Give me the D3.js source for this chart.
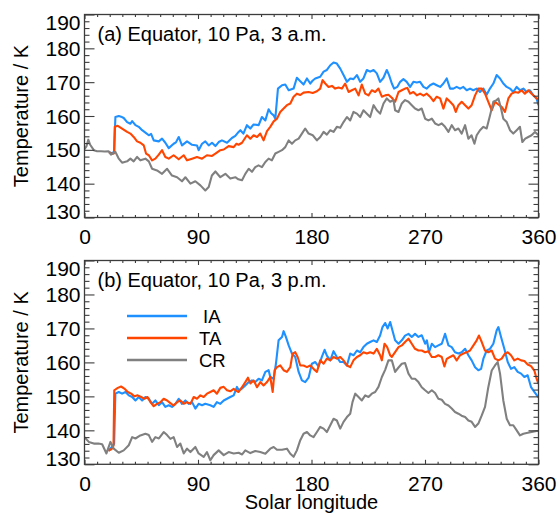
<!DOCTYPE html>
<html>
<head>
<meta charset="utf-8">
<script src="https://cdn.jsdelivr.net/npm/d3@7"></script>
<style>
  body { margin: 0; background: #fff; }
  svg { display: block; font-family: "Liberation Sans", Arial, Helvetica, sans-serif; }
</style>
</head>
<body>
<svg id="chart" width="558" height="514"></svg>
<script>
// ---------------- DATA (Solar longitude [deg], Temperature [K]) ----------------
const xTicks = [0, 90, 180, 270, 360];
const yTicks = [130, 140, 150, 160, 170, 180, 190];
const seriesNames = ["IA", "TA", "CR"];
const panelTitles = ["(a) Equator, 10 Pa, 3 a.m.", "(b) Equator, 10 Pa, 3 p.m."];

// Panel (a), 3 a.m.
const amIA = [[19.5,149.3],[22,149],[23.5,149.5],[24.5,159.7],[27.2,160],[29,159.8],[31.1,159.4],[33.8,158.2],[36.4,157.7],[37.8,158.5],[40.4,157.3],[43,156.8],[45.7,155.8],[48.3,155.1],[51,154.3],[52.8,154.7],[54.9,152.8],[58.9,152.5],[61.5,153.3],[64.1,152.1],[66.8,150.5],[70.7,151.8],[72.5,152.2],[74.7,153.8],[77.3,151.3],[81.3,152.5],[85.3,151.5],[89.2,151.3],[90.5,149.9],[93.2,151.8],[95.8,152.5],[98.5,151.3],[101.1,152.1],[103.8,151.1],[106.4,152.3],[109,152.8],[113,152.1],[116.9,153.5],[119.6,154.1],[122.2,155.3],[123.6,155.8],[126,154.8],[128.8,157.3],[131.5,156.3],[134.1,157.5],[138.1,157.3],[140.7,159.7],[143.4,158.7],[146,162],[148,160.8],[150,160.2],[151.3,159.2],[153.4,168.1],[156.6,169.1],[159.2,169.3],[161.9,167.6],[165.8,168.1],[168.4,171.3],[171.1,170.3],[173.7,169.3],[176.4,171.1],[179,169.6],[181,170.5],[183,171.1],[186.9,171.6],[189.6,173.1],[192.2,173.6],[194.9,175],[197.5,175.8],[200.1,175.5],[202.8,174],[205.4,172.1],[208.1,170.1],[210.7,171.1],[213.3,170.9],[216,172.1],[218.6,170.1],[221.2,171.1],[223.9,173.6],[226.5,173.1],[229.2,173.6],[231.8,172.6],[234.4,170.1],[237.1,171.3],[239.7,173.6],[241.5,172.1],[243.7,169.6],[245.5,168.1],[248,168.6],[250.3,170.1],[252.9,170.9],[255.5,170.1],[258.2,168.6],[260.8,170.1],[263.5,169.9],[266.1,170.1],[268.8,168.6],[271.4,168.1],[274,169.1],[276.7,169.6],[279.3,169.1],[282,168.6],[284.6,169.6],[287.2,171.1],[289.9,168.1],[292.5,168.1],[295.1,168.6],[297.8,168.1],[300.4,168.6],[303.1,167.6],[305.7,168.1],[308.3,167.6],[311,168.1],[313.6,167.1],[316.3,168.1],[318.9,166.3],[321.5,168.1],[324.2,169.6],[326.8,172.1],[329.5,171.1],[332.1,169.6],[334.8,168.6],[337.4,168.1],[340,167.1],[342.7,168.6],[345.3,167.6],[348,168.1],[350.6,167.1],[353.2,167.6],[355.9,166.1],[358.5,165.1],[360,163.2]];
const amTA = [[19.5,149.3],[22,148.8],[23.5,149],[24,156.8],[26.4,157.1],[29.8,156.3],[33.8,155.3],[36.4,154.8],[39,153.8],[41.7,152.5],[44.3,152.1],[47,151.3],[48.8,148.9],[51,148.4],[53.6,146.9],[56.2,147.4],[58.9,148.6],[61.5,149.9],[64.1,147.9],[66.8,147.4],[70.7,148.4],[74.7,147.2],[78.7,148.4],[81.3,146.9],[85.3,147.4],[89.2,147.9],[93.2,147.4],[97.1,148.4],[101.1,148.2],[103.8,148.9],[107.7,149.9],[110.4,150.1],[114.3,151.1],[118.3,150.8],[120.5,151.8],[122.2,151.5],[124.9,152.1],[128.8,154.3],[131.5,153.3],[134.1,154.3],[136.8,153.8],[139.4,154.8],[142,152.8],[144.7,155.5],[147.3,156.8],[150,158.4],[152.6,159.2],[155.2,161.2],[157.9,162.2],[160.5,163.2],[163.2,163.7],[165.8,165.7],[168.4,166.6],[171.1,166.2],[173.7,166.9],[177.7,167.1],[181,166.8],[184.3,167.3],[186.9,168.1],[188.8,170.6],[190.9,169.6],[193.5,168.6],[196.2,168.9],[198.8,168.1],[201.4,168.4],[204.1,168.1],[206.7,169.6],[209.4,167.1],[212,167.6],[214.7,168.1],[217.3,166.1],[219.9,169.3],[222.6,166.6],[225.2,166.1],[227.8,167.6],[230.5,167.1],[233.1,168.1],[235.8,165.7],[238.4,166.1],[241,166.3],[243.7,165.4],[246.3,164.2],[249,167.1],[251.6,167.6],[254.2,168.1],[256,168.3],[258.2,166.6],[260.8,167.1],[263.5,166.1],[266.1,166.6],[268.8,166],[271.4,166.6],[274,165.7],[276.7,164.4],[279.3,165.7],[282,165.2],[284.6,162.2],[287.2,165.2],[289.9,164.2],[292.5,163.2],[294.4,161.2],[296.5,163.2],[299.1,164.2],[301.8,163.2],[304.4,162.2],[307,163.2],[309.7,166.1],[312.3,168.1],[315,168.1],[317.6,166.6],[320.2,164.2],[322.9,161.7],[325.5,164.2],[328.2,163.4],[330.8,162.7],[333.4,161.2],[336.1,165.2],[338.7,166.6],[341.4,167.1],[344,166.9],[346.6,167.6],[349.2,166.6],[351.9,167.6],[354.5,166.6],[357.2,165.7],[360,164.7]];
const amCR = [[0,150.2],[1.5,151],[3,153],[4.5,151.5],[7.4,149.9],[10,149.6],[13,149.6],[16,149.5],[19,149.6],[21,148.6],[24.5,149.4],[27,147.5],[29.8,146.2],[33.8,146.6],[36.4,147.4],[39,146.6],[41.7,147.9],[44.3,146.9],[48.3,147.4],[51,146.6],[53.6,144.4],[57.5,143.9],[61.5,142.9],[65.5,144.4],[69.4,142.4],[73.4,141.9],[77.3,140.7],[80,141.9],[84,140],[87.9,140.7],[91.9,139.5],[95.8,138],[98.5,139],[101,142.4],[103.8,143.6],[107.7,141.9],[111.7,142.9],[115.6,141.5],[119.6,141.9],[122,141.3],[124.9,141],[127.5,142.9],[130.2,144.4],[132.8,143.5],[135.4,144.9],[138,145.4],[140.7,144.9],[143.4,146.4],[146,147.4],[148.6,146.9],[151.3,148.9],[153.9,149.4],[156.6,149.9],[159.2,150.8],[161.9,152.8],[164.5,151.8],[167.1,152.8],[169.8,153.3],[172.4,154.8],[175,156.3],[177.7,154.8],[181,154.3],[184.3,152.8],[187,153.8],[189.6,155.3],[192.2,154.5],[194.9,155.8],[197.5,155.3],[200.1,156.8],[202.8,156.5],[205.4,158.2],[208.1,159.7],[210.7,158.7],[213.3,161.2],[216,160.7],[218.6,159.7],[221.2,161.7],[223.9,160.7],[226.5,159.7],[229.2,163.2],[231.8,161.7],[234.4,160.7],[237.1,163.7],[239.7,165.2],[242.4,164.2],[245,164.7],[246.3,161.7],[249,161.2],[251.6,163.7],[254.2,164.7],[256.9,164.2],[259.5,163.2],[262.1,162.2],[264.8,161.7],[267.4,162.2],[270.1,159.2],[272.7,158.7],[275.4,159.2],[278,157.8],[280.7,157.3],[283.3,157.8],[285.9,156.8],[288.6,155.3],[291.2,157.3],[293.8,155.8],[296.5,156.3],[299.1,154.8],[301.8,157.3],[304.4,153.3],[306.9,154.3],[309.2,151.8],[311,154.3],[313.6,155.8],[316.3,156.8],[318.9,156.3],[321.6,160.2],[324.2,164.2],[326.8,164.7],[328.2,165.2],[330.3,162.2],[332.1,159.2],[334.8,158.2],[337.4,155.8],[340,154.8],[342.7,155.8],[345.3,156.8],[347.2,152.3],[349.5,153.3],[351.9,153.8],[354.5,154.3],[357.2,155.3],[360,154.3]];

// Panel (b), 3 p.m.
const pmIA = [[19,134],[21.5,135],[23.5,136],[24.5,150.8],[27.2,151.3],[29.8,150.8],[32.5,151.3],[35.1,150.3],[37.8,149.8],[40.4,148.8],[43,149.8],[45.7,148.8],[48.3,149.8],[51,149.3],[53.6,147.8],[56.2,148.8],[58.9,147.4],[61.5,148.3],[64.1,146.9],[66.8,147.4],[69.4,146.9],[72.1,147.8],[74.7,149.3],[77.3,147.8],[80,148.8],[82.6,147.8],[85.3,148.3],[87.9,146.4],[90.5,147.8],[93.2,147.4],[95.8,147.8],[99.8,147.4],[102.4,146.9],[105,148.3],[107.7,147.8],[110.4,148.8],[113,149.3],[115.6,149.8],[118.3,150.3],[120.9,152.8],[122.2,151.8],[124.9,152.3],[127.5,153.2],[130.2,154.2],[132.8,154.7],[135.4,154.2],[138.1,155.2],[140.7,154.7],[143.4,157.2],[146,157.7],[147.3,155.7],[150,155.2],[151.8,159.6],[153.9,166.5],[156.6,167.5],[157.9,169.2],[159.7,167.5],[161.9,165],[164.5,162.6],[167.1,161.6],[169.8,157.2],[172.4,154.7],[175,154.2],[177.7,155.5],[180.3,159.6],[183,160.1],[185.6,158.8],[188.2,161.6],[190.4,163.7],[192.2,162],[194.9,160.6],[197.5,163.3],[200.1,161.6],[202.8,160.1],[205.4,160.1],[208.1,159.1],[210.7,162.6],[213.3,162.1],[216,163.5],[218.6,163],[221.2,164.5],[223.9,165.5],[226.5,166],[229.2,166.5],[231.8,166],[234.4,167.9],[236.3,170.4],[238.4,171.6],[240.4,170],[242.4,171.9],[244.2,169.4],[246.3,166.5],[249,165.5],[251.6,166.5],[254.2,167.9],[256.9,168.4],[259.5,167.5],[262.1,168.4],[264.8,167.5],[267.4,168],[270.1,165.5],[271.5,166.5],[273.2,163],[275.4,165.5],[278,164.5],[280.6,165],[283.3,165.5],[285.9,168.4],[288.6,165],[291.2,164.5],[293.8,163],[296.5,162.6],[299.1,163],[301.8,164],[304.4,162.1],[307,160.6],[309.7,158.6],[312.3,157.7],[314.5,158.1],[316.3,161.1],[318.9,163.5],[321.5,164],[324.2,165.5],[326.8,169.4],[328.2,170.4],[330.3,167.5],[332.9,164],[335.6,160.1],[338.2,158.1],[340.8,158.6],[343.5,157.2],[346.2,156.7],[348.8,155.7],[351.4,156.2],[354.1,152.7],[356.7,151.3],[359.3,150],[360,149.8]];
const pmTA = [[19,134],[21.5,134.5],[23,135.5],[23.6,151.8],[26.4,152.5],[29,152.9],[31.6,152.3],[34.3,151.3],[37,150.8],[39.6,150],[42.2,150.3],[44.9,149.8],[47.5,149.3],[50,149.8],[52.3,148.3],[54.9,147.1],[57.5,147.8],[60.2,148.3],[62.8,149.3],[65.5,148.8],[68.1,148],[70.7,147.3],[73.4,148.3],[76,148.8],[78.7,147.8],[81.3,148.3],[84,147.8],[86.6,149.8],[89.2,149.3],[91.9,150.3],[94.5,149.8],[97.1,150.8],[99.8,151.3],[102.4,151.8],[105,150.8],[107.7,152.5],[110.4,152.8],[113,151.8],[115.6,151.5],[118.3,152.2],[120.9,151.5],[122.2,151.3],[124.9,152.7],[127.5,154.2],[129.6,155.5],[131.5,153.8],[134.1,154.7],[136.8,152.7],[139.4,154.2],[142,153.2],[144.7,154.2],[147.3,155.7],[149.2,151.3],[150.8,157.7],[152.6,158.6],[155.2,159.1],[157.9,157.7],[160.5,157.2],[163.2,158.6],[165,162.6],[167.1,163],[169,161.6],[171.1,159.1],[173.7,159.1],[176.4,158.6],[179,159.1],[181.6,158.1],[184.3,157.2],[186.9,160.6],[189.6,159.6],[192.2,161.1],[194.9,160.6],[197.5,161.6],[200.1,161.1],[202.8,161.6],[205.4,160.6],[208.1,159.1],[210.7,158.6],[213.3,160.6],[216,161.6],[218.6,162.1],[221.2,163],[223.9,162.6],[226.5,163],[229.2,162.6],[231.8,164],[234.4,162.1],[235.8,160.6],[237.9,165.5],[240,164.5],[242.4,162.1],[243.7,161.6],[246.3,163],[249,164.5],[251.6,165],[254.2,166],[256.9,167],[259.5,165.5],[262.1,164],[264.8,163.5],[267.4,163.5],[270.1,163],[272.7,163.3],[275.4,161.6],[278,161.6],[280.6,162.1],[283.3,161.6],[285.4,158.8],[287.2,161],[289.9,161.6],[292.5,162.1],[295.1,160.6],[297.8,162.1],[300.4,162.6],[303,163],[305.7,163.5],[308.4,165],[311,166.5],[312.8,167.9],[315,166],[317.6,163.5],[320.2,163],[322.9,163.5],[325.5,161.1],[328.2,160.6],[330.8,161.1],[333.4,162.6],[335.6,163],[338.2,162.1],[340.8,160.6],[343.5,161.1],[346.2,160.6],[348.8,160.4],[351.4,159.4],[354.1,158.9],[356.7,157.6],[358.5,155.2],[360,153.7]];
const pmCR = [[0,138],[3.4,136.6],[7.4,136.1],[11,136.1],[14,135.9],[17.4,133.2],[20.6,136.6],[23.2,134.6],[27.2,133.4],[31.1,134.1],[35.1,135.6],[37.8,138],[40.4,137.6],[44.3,138.5],[48.3,139],[51,138.6],[53.6,136.6],[56.2,138],[59,137.6],[62.8,139.5],[65.5,138.6],[68.1,137.5],[70.7,138],[73.4,135.1],[76,136.1],[78.7,133.2],[81.3,134.6],[84,133.6],[87.9,135.1],[90.5,133.2],[94.5,132.2],[97.1,133.6],[99.8,131.2],[102.4,132.7],[106.4,134.1],[110.4,132.7],[114.3,133.6],[118.3,133.2],[122.2,133.4],[125,132.9],[127.5,134.1],[131.5,133.3],[135.4,133.9],[139.4,133.6],[143.4,133.1],[147.3,134.6],[150,135.1],[152.6,134.3],[156.6,134.3],[160.5,134.6],[163.2,133.1],[165.8,132.2],[168.4,134.1],[171.1,137.1],[173.7,139.0],[176.4,139.5],[179,138.5],[181.6,138.0],[184.3,139.5],[186.9,141],[189.6,140.5],[192.2,139.5],[194.9,141.5],[197.5,143.4],[200.1,142.9],[202.8,140.5],[205.4,142.5],[208.1,143.9],[210.7,144.9],[212.5,148.3],[214.7,150.8],[217.3,149.8],[219.9,148.8],[222.6,150.3],[225.2,149.8],[227.8,150.8],[230.5,151.3],[233.1,152.8],[235.8,155.7],[238.4,157.8],[241,160.6],[243.7,160.6],[246.3,157.2],[249,158.5],[251.6,159.6],[254.2,159.8],[256.9,156.7],[259.5,155.2],[262.1,155.2],[264.8,154.2],[267.4,152.7],[270.1,151.8],[272.7,151],[275.4,151.8],[278,151],[280.6,149.3],[283.3,149],[285.9,147.8],[288.6,147.3],[291.2,146.4],[293.8,145.4],[296.5,144.9],[299,144.3],[301.8,143.9],[304.4,142.9],[307,142.5],[309.7,141],[312.3,142],[315,144.4],[317.6,146.9],[320.2,152.7],[322.9,157.6],[325.5,159.1],[327.6,160.1],[329.5,156.7],[332.1,148.8],[334.8,143.4],[337.4,141.5],[340,141.5],[342.7,140],[345.3,138.5],[348,139],[350.6,139.2],[354.6,139.5],[358.5,139.8],[360,139.8]];

// ---------------- STYLE / LAYOUT ----------------
const colors = { IA: "#1e90ff", TA: "#ff4500", CR: "#808080" };
const axisColor = "#3c3c3c";
const left = 84.5, right = 538.5;
const panels = [
  { top: 14.5, bottom: 217.5, title: panelTitles[0], data: { IA: amIA, TA: amTA, CR: amCR }, legend: false },
  { top: 260.5, bottom: 464.3, title: panelTitles[1], data: { IA: pmIA, TA: pmTA, CR: pmCR }, legend: true }
];

const svg = d3.select("#chart");
const x = d3.scaleLinear().domain([0, 360]).range([left, right]);
const xMinor = d3.range(0, 361, 10).filter(v => v % 90 !== 0);
const yMinor = d3.range(130, 191, 2).filter(v => v % 10 !== 0);

panels.forEach((p, i) => {
  const y = d3.scaleLinear().domain([130, 190]).range([p.bottom, p.top]);
  const g = svg.append("g");
  const clipId = "clip" + i;
  svg.append("clipPath").attr("id", clipId).append("rect")
    .attr("x", left).attr("y", p.top).attr("width", right - left).attr("height", p.bottom - p.top);

  // lines
  const line = d3.line().x(d => x(d[0])).y(d => y(d[1]));
  const lg = g.append("g").attr("clip-path", `url(#${clipId})`);
  seriesNames.forEach(name => {
    lg.append("path").datum(p.data[name])
      .attr("d", line)
      .attr("fill", "none")
      .attr("stroke", colors[name])
      .attr("stroke-width", 2.1)
      .attr("stroke-linejoin", "round");
  });

  // axes
  const styleAxis = sel => {
    sel.select(".domain").remove();
    sel.selectAll("line").attr("stroke", axisColor).attr("stroke-width", 1.1);
    sel.selectAll("text").attr("fill", "#000").attr("font-size", 21)
      .attr("font-family", "'Liberation Sans', Arial, Helvetica, sans-serif");
  };
  // bottom
  g.append("g").attr("transform", `translate(0,${p.bottom})`)
    .call(d3.axisBottom(x).tickValues(xTicks).tickSizeInner(-4.5).tickSizeOuter(0).tickPadding(11.5).tickFormat(d3.format("d")))
    .call(styleAxis);
  g.append("g").attr("transform", `translate(0,${p.bottom})`)
    .call(d3.axisBottom(x).tickValues(xMinor).tickSizeInner(-2.5).tickSizeOuter(0).tickFormat(""))
    .call(styleAxis);
  // top
  g.append("g").attr("transform", `translate(0,${p.top})`)
    .call(d3.axisTop(x).tickValues(xTicks).tickSizeInner(-4.5).tickSizeOuter(0).tickFormat(""))
    .call(styleAxis);
  g.append("g").attr("transform", `translate(0,${p.top})`)
    .call(d3.axisTop(x).tickValues(xMinor).tickSizeInner(-2.5).tickSizeOuter(0).tickFormat(""))
    .call(styleAxis);
  // left
  g.append("g").attr("transform", `translate(${left},0)`)
    .call(d3.axisLeft(y).tickValues(yTicks).tickSizeInner(-10).tickSizeOuter(0).tickPadding(4).tickFormat(d3.format("d")))
    .call(styleAxis)
    .selectAll("text").attr("dy", d => d === 190 ? "0.7em" : d === 130 ? "0.04em" : "0.34em");
  g.append("g").attr("transform", `translate(${left},0)`)
    .call(d3.axisLeft(y).tickValues(yMinor).tickSizeInner(-5).tickSizeOuter(0).tickFormat(""))
    .call(styleAxis);
  // right
  g.append("g").attr("transform", `translate(${right},0)`)
    .call(d3.axisRight(y).tickValues(yTicks).tickSizeInner(-10).tickSizeOuter(0).tickFormat(""))
    .call(styleAxis);
  g.append("g").attr("transform", `translate(${right},0)`)
    .call(d3.axisRight(y).tickValues(yMinor).tickSizeInner(-5).tickSizeOuter(0).tickFormat(""))
    .call(styleAxis);

  // frame
  g.append("rect").attr("x", left).attr("y", p.top)
    .attr("width", right - left).attr("height", p.bottom - p.top)
    .attr("fill", "none").attr("stroke", axisColor).attr("stroke-width", 1.3);

  // title
  g.append("text").attr("x", 97.5).attr("y", p.top + 26)
    .attr("font-size", 20).attr("fill", "#000").text(p.title);

  // y label
  const cy = (p.top + p.bottom) / 2;
  g.append("text").attr("transform", `translate(28,${cy}) rotate(-90)`)
    .attr("text-anchor", "middle").attr("font-size", 20).attr("fill", "#000")
    .text("Temperature / K");

  // legend
  if (p.legend) {
    const ly = [316, 338, 360];
    const lx = [203, 199, 199];
    seriesNames.forEach((name, k) => {
      g.append("line").attr("x1", 127).attr("x2", 187).attr("y1", ly[k]).attr("y2", ly[k])
        .attr("stroke", colors[name]).attr("stroke-width", 2.4);
      g.append("text").attr("x", lx[k]).attr("y", ly[k] + 6.5)
        .attr("font-size", 18.5).attr("fill", "#000").text(name);
    });
  }
});

// x label
svg.append("text").attr("x", (left + right) / 2).attr("y", 508.5)
  .attr("text-anchor", "middle").attr("font-size", 20).attr("fill", "#000")
  .text("Solar longitude");
</script>
</body>
</html>
